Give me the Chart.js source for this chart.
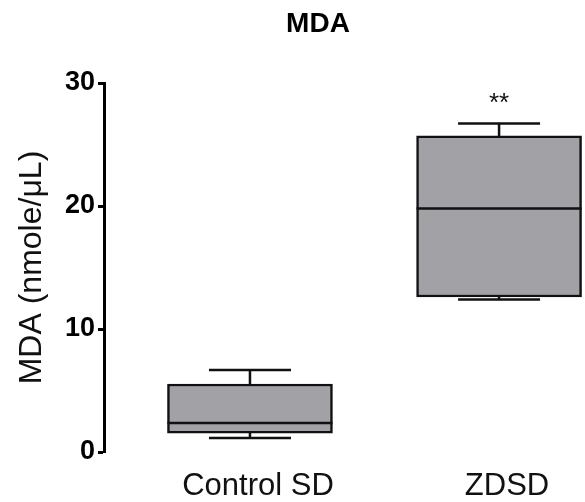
<!DOCTYPE html>
<html>
<head>
<meta charset="utf-8">
<script src="https://cdn.jsdelivr.net/npm/chart.js@4/dist/chart.umd.min.js"></script>
<style>
  html, body { margin: 0; padding: 0; background: #fff; }
  #wrap { width: 585px; height: 502px; }
</style>
</head>
<body>
<div id="wrap"><canvas id="chart"></canvas></div>
<script>
  // Box plot MDA : boîte = flottant Q1..Q3, médiane et moustaches par plugin.
  const categories = ['Control SD', 'ZDSD'];
  const whiskerMin = [1.14, 12.4];
  const q1 = [1.54, 12.6];
  const median = [2.36, 19.8];
  const q3 = [5.53, 25.7];
  const whiskerMax = [6.67, 26.7];
  const signif = ['', '**'];
  const yTicks = [0, 10, 20, 30];
  const chartTitle = 'MDA';

  const FONT = "'Liberation Sans', Arial, Helvetica, sans-serif";
  const BOX_W = 165;
  const CAP_W = 82;
  const LINE = 2.5;
  const INK = '#111';

  // Titre légèrement décalé à droite comme sur l'original (centré hors zone du graphe).
  const titleDraw = {
    id: 'titleDraw',
    afterDraw(chart) {
      const ctx = chart.ctx;
      ctx.save();
      ctx.fillStyle = '#000';
      ctx.font = 'bold 28px ' + FONT;
      ctx.textAlign = 'center';
      ctx.textBaseline = 'middle';
      ctx.fillText(chartTitle, 318, 24);
      ctx.restore();
    }
  };

  const boxExtras = {
    id: 'boxExtras',
    afterDatasetsDraw(chart) {
      const ctx = chart.ctx;
      const xs = chart.scales.x, ys = chart.scales.y;
      ctx.save();
      ctx.strokeStyle = INK;
      ctx.lineWidth = LINE;
      categories.forEach((c, i) => {
        const xc = xs.getPixelForValue(i);
        const yMed = ys.getPixelForValue(median[i]);
        const yQ1 = ys.getPixelForValue(q1[i]);
        const yQ3 = ys.getPixelForValue(q3[i]);
        const yMin = ys.getPixelForValue(whiskerMin[i]);
        const yMax = ys.getPixelForValue(whiskerMax[i]);
        ctx.beginPath();
        // médiane
        ctx.moveTo(xc - BOX_W / 2, yMed); ctx.lineTo(xc + BOX_W / 2, yMed);
        // moustache haute
        ctx.moveTo(xc, yQ3); ctx.lineTo(xc, yMax);
        ctx.moveTo(xc - CAP_W / 2, yMax); ctx.lineTo(xc + CAP_W / 2, yMax);
        // moustache basse
        ctx.moveTo(xc, yQ1); ctx.lineTo(xc, yMin);
        ctx.moveTo(xc - CAP_W / 2, yMin); ctx.lineTo(xc + CAP_W / 2, yMin);
        ctx.stroke();
        if (signif[i]) {
          ctx.fillStyle = INK;
          ctx.font = '26px ' + FONT;
          ctx.textAlign = 'center';
          ctx.textBaseline = 'alphabetic';
          ctx.fillText(signif[i], xc, yMax - 13);
        }
      });
      ctx.restore();
    }
  };

  new Chart(document.getElementById('chart'), {
    type: 'bar',
    data: {
      datasets: [{
        data: categories.map((c, i) => ({ x: i, y: [q1[i], q3[i]] })),
        backgroundColor: '#a2a1a6',
        borderColor: INK,
        borderWidth: LINE,
        borderSkipped: false,
        barThickness: BOX_W,
      }]
    },
    options: {
      responsive: true,
      maintainAspectRatio: false,
      animation: false,
      events: [],
      layout: { padding: { left: 0, right: 0, top: 83, bottom: 0 } },
      plugins: {
        legend: { display: false },
        tooltip: { enabled: false },
        title: { display: false }
      },
      scales: {
        x: {
          type: 'linear',
          offset: false,
          bounds: 'data',
          min: -0.586,
          max: 1.345,
          afterBuildTicks: s => { s.ticks = categories.map((c, i) => ({ value: i })); },
          afterFit: s => { s.height = 50; },
          grid: { display: false, drawTicks: false, offset: false },
          border: { display: false },
          ticks: {
            color: INK,
            padding: 16,
            labelOffset: 8,
            font: { family: FONT, size: 31 },
            callback: v => categories[v],
          }
        },
        y: {
          min: 0,
          max: 30,
          afterBuildTicks: s => { s.ticks = yTicks.map(v => ({ value: v })); },
          afterFit: s => { s.width = 104; },
          grid: {
            drawOnChartArea: false,
            drawTicks: true,
            tickLength: 6,
            tickWidth: 3,
            color: '#000',
          },
          border: { display: true, width: 3, color: '#000' },
          ticks: {
            color: '#000',
            padding: 3,
            font: { family: FONT, size: 27, weight: 'bold' },
          },
          title: {
            display: true,
            text: 'MDA (nmole/\u03bcL)',
            color: INK,
            font: { family: FONT, size: 32 },
            padding: { top: 13, bottom: 0 },
          }
        }
      }
    },
    plugins: [boxExtras, titleDraw]
  });
</script>
</body>
</html>
